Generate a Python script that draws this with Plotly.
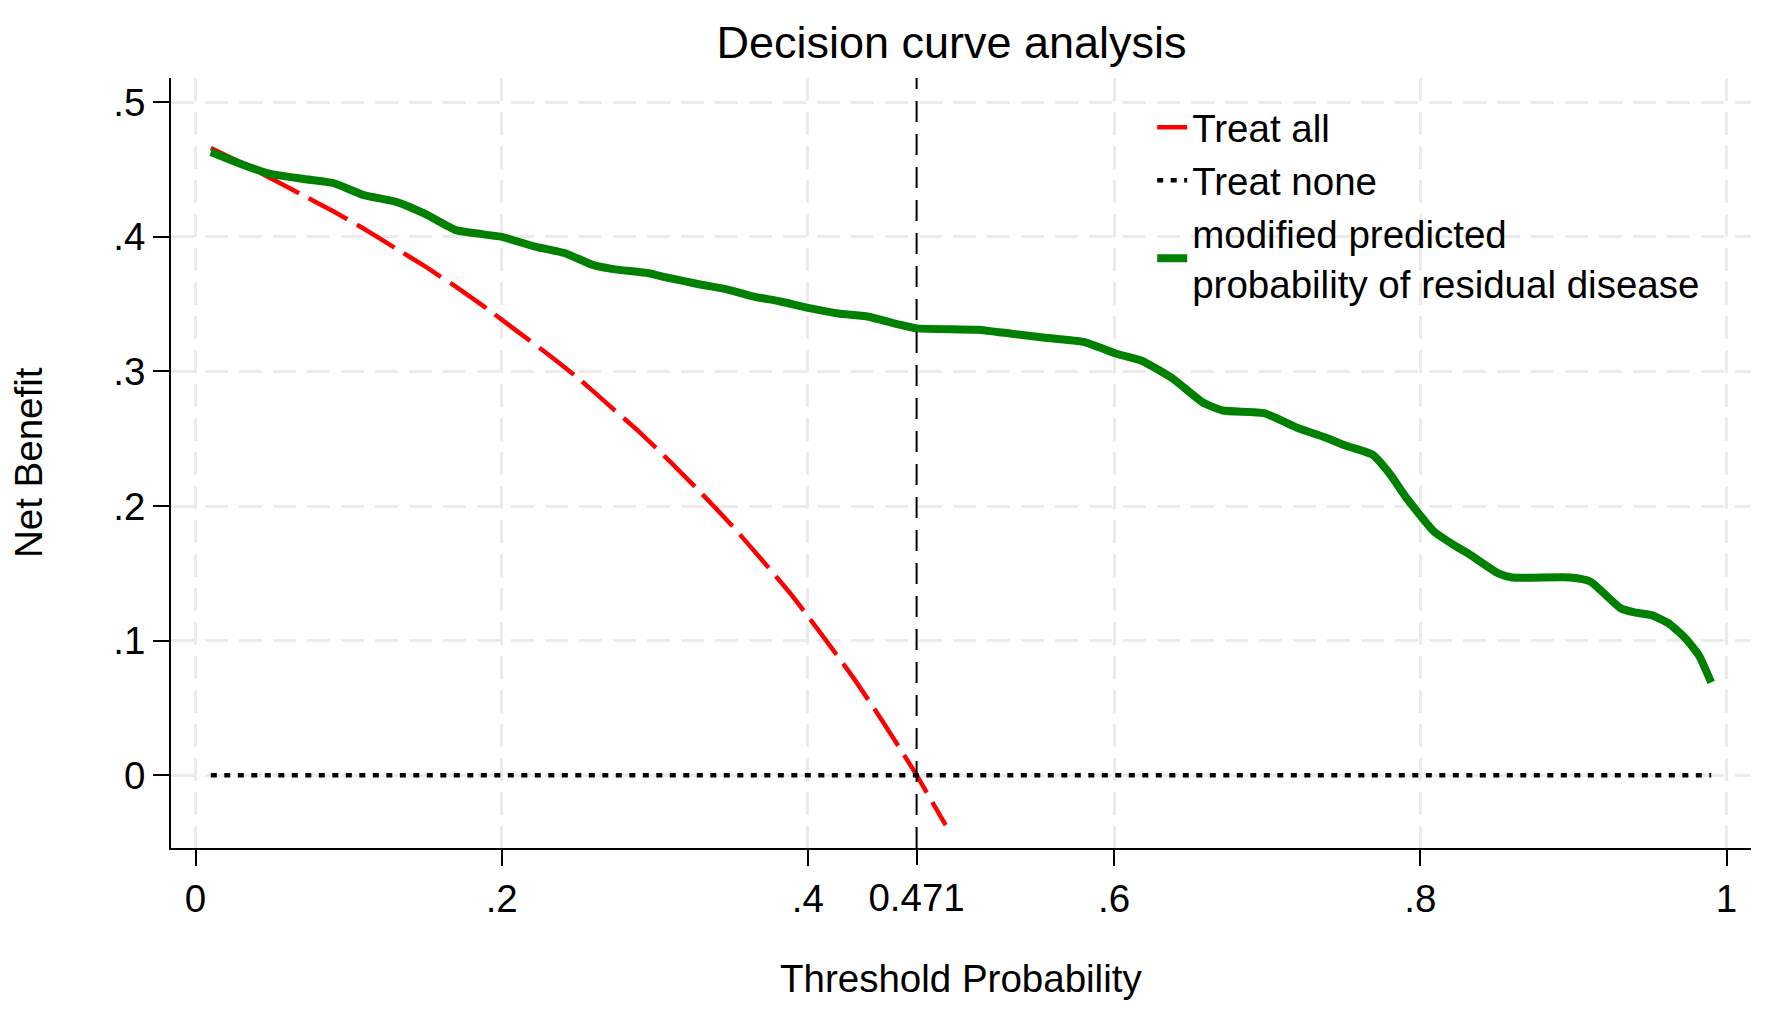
import plotly.graph_objects as go

# net benefit values
thresholds_all = [0.01, 0.03, 0.05, 0.07, 0.09, 0.11, 0.13, 0.15, 0.17, 0.19, 0.21, 0.23, 0.25,
                  0.27, 0.29, 0.31, 0.33, 0.35, 0.37, 0.39, 0.41, 0.43, 0.45, 0.47, 0.49]
nb_all = [0.466, 0.455, 0.443, 0.431, 0.419, 0.406, 0.392, 0.378, 0.363, 0.347, 0.330, 0.313, 0.295,
          0.275, 0.255, 0.233, 0.210, 0.186, 0.160, 0.133, 0.103, 0.072, 0.038, 0.002, -0.037]

thresholds_none = [0.01, 0.99]
nb_none = [0, 0]

thresholds_model = [0.010, 0.030, 0.048, 0.071, 0.090, 0.110, 0.131, 0.150, 0.170, 0.187, 0.200,
                    0.221, 0.241, 0.260, 0.273, 0.296, 0.307, 0.328, 0.347, 0.363, 0.382, 0.401,
                    0.420, 0.438, 0.459, 0.471, 0.511, 0.533, 0.555, 0.580, 0.602, 0.618, 0.638,
                    0.658, 0.671, 0.698, 0.720, 0.738, 0.751, 0.769, 0.780, 0.791, 0.809, 0.822,
                    0.831, 0.851, 0.860, 0.898, 0.911, 0.931, 0.940, 0.951, 0.962, 0.973, 0.982, 0.990]
nb_model = [0.463, 0.454, 0.447, 0.443, 0.440, 0.431, 0.426, 0.417, 0.405, 0.402, 0.400,
            0.393, 0.388, 0.379, 0.376, 0.373, 0.370, 0.365, 0.361, 0.356, 0.352, 0.347,
            0.343, 0.341, 0.335, 0.332, 0.331, 0.328, 0.325, 0.322, 0.313, 0.308, 0.295,
            0.277, 0.271, 0.269, 0.258, 0.251, 0.245, 0.238, 0.224, 0.206, 0.181, 0.171,
            0.165, 0.150, 0.147, 0.147, 0.144, 0.124, 0.121, 0.119, 0.113, 0.102, 0.089, 0.069]

cutoff = 0.471

x_range = [-0.016, 1.016]
y_range = [-0.054, 0.518]
x_ticks = [0, 0.2, 0.4, 0.6, 0.8, 1]
x_ticktext = ['0', '.2', '.4', '.6', '.8', '1']
y_ticks = [0, 0.1, 0.2, 0.3, 0.4, 0.5]
y_ticktext = ['0', '.1', '.2', '.3', '.4', '.5']

FONT = 'Liberation Sans, Arial, sans-serif'
GRID = '#ebebeb'

fig = go.Figure()
fig.add_trace(go.Scatter(x=thresholds_all, y=nb_all, mode='lines', name='Treat all',
                         line=dict(color='#ff0000', width=4.5, dash='44px,11px', shape='spline', smoothing=0.4)))
fig.add_trace(go.Scatter(x=thresholds_none, y=nb_none, mode='lines', name='Treat none',
                         line=dict(color='black', width=4.5, dash='6px,7.5px')))
fig.add_trace(go.Scatter(x=thresholds_model, y=nb_model, mode='lines',
                         name='modified predicted<br>probability of residual disease',
                         line=dict(color='#008000', width=8, shape='spline', smoothing=0.5)))
# vertical reference line at the threshold, on an overlay axis carrying the 0.471 tick
fig.add_trace(go.Scatter(x=[cutoff, cutoff], y=y_range, mode='lines', xaxis='x2', showlegend=False,
                         line=dict(color='black', width=2, dash='21px,12px')))

# page body has an 8px margin, so the figure is sized to fit inside the window
fig.update_layout(
    width=1756, height=994,
    paper_bgcolor='white', plot_bgcolor='white',
    font=dict(family=FONT, color='black', size=38.5),
    margin=dict(l=163, r=13, t=70, b=154),
    title=dict(text='Decision curve analysis', x=0.494, xref='paper', xanchor='center',
               y=0.966, yanchor='middle', font=dict(size=45)),
    xaxis=dict(range=x_range, tickvals=x_ticks, ticktext=x_ticktext, automargin=False,
               showline=True, linecolor='black', linewidth=2, ticks='outside', ticklen=16,
               tickwidth=2, tickcolor='black', ticklabelstandoff=0,
               showgrid=True, gridcolor=GRID, gridwidth=3, griddash='23px,11px', zeroline=False),
    xaxis2=dict(range=x_range, overlaying='x', anchor='y', side='bottom', automargin=False,
                tickvals=[cutoff], ticktext=['0.471'], ticks='outside', ticklen=16,
                tickwidth=2, tickcolor='black', ticklabelstandoff=0,
                showgrid=False, showline=False, zeroline=False),
    yaxis=dict(range=y_range, tickvals=y_ticks, ticktext=y_ticktext, automargin=False,
               showline=True, linecolor='black', linewidth=2, ticks='outside', ticklen=16,
               tickwidth=2, tickcolor='black',
               showgrid=True, gridcolor=GRID, gridwidth=3, griddash='23px,11px', zeroline=False),
    legend=dict(x=0.621, y=0.977, xanchor='left', yanchor='top', bgcolor='rgba(0,0,0,0)',
                font=dict(size=38.5)),
)

# axis titles
fig.add_annotation(text='Threshold Probability', xref='paper', yref='paper', x=0.5, y=-0.1701,
                   xanchor='center', yanchor='middle', showarrow=False)
fig.add_annotation(text='Net Benefit', xref='paper', yref='paper', x=-0.0905, y=0.5,
                   textangle=-90, xanchor='center', yanchor='middle', showarrow=False)

fig.write_html('out.html')
